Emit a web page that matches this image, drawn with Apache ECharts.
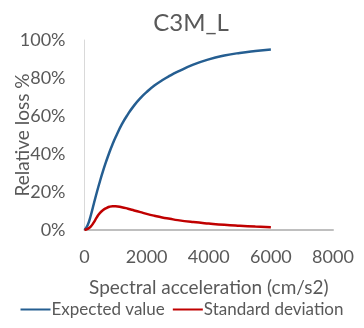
<!DOCTYPE html>
<html>
<head>
<meta charset="utf-8">
<script src="https://cdn.jsdelivr.net/npm/echarts@6/dist/echarts.min.js"></script>
<style>
  html, body { margin: 0; padding: 0; background: #fff; }
  #main { width: 364px; height: 328px; }
</style>
</head>
<body>
<div id="main"></div>
<script>
// spectral acceleration (cm/s2)
var accel = [0, 100, 200, 300, 400, 500, 600, 700, 800, 900, 1000, 1200, 1400, 1600, 1800, 2000,
  2250, 2500, 2750, 3000, 3500, 4000, 4500, 5000, 5500, 6000];
// relative loss %
var expectedValue = [0, 2.5, 7.5, 13.8, 20, 25.8, 31.2, 36.2, 40.8, 45, 48.8, 55.6, 61, 65.6, 69.4, 72.6,
  76, 78.8, 81.2, 83.3, 87, 89.8, 91.8, 93.2, 94.2, 95];
var standardDeviation = [0, 0.6, 1.8, 4, 6.8, 9, 10.5, 11.5, 12.2, 12.5, 12.5, 12, 11.2, 10.3, 9.4, 8.5,
  7.5, 6.6, 5.9, 5.2, 4.2, 3.4, 2.7, 2.2, 1.8, 1.5];
var xTicks = [0, 2000, 4000, 6000, 8000];
var seriesNames = ['Expected value', 'Standard deviation'];

function pairs(xs, ys) {
  var out = [];
  for (var i = 0; i < xs.length; i++) out.push([xs[i], ys[i]]);
  return out;
}

var font = 'Lato, "Open Sans", sans-serif';
var grey = '#595959';

var chart = echarts.init(document.getElementById('main'));
chart.setOption({
  animation: false,
  textStyle: { fontFamily: font },
  title: {
    text: 'C3M_L',
    left: 186,
    textAlign: 'center',
    top: 6,
    textStyle: { fontFamily: font, fontSize: 24, fontWeight: 'normal', color: grey }
  },
  legend: {
    bottom: 5,
    left: 'center',
    icon: 'rect',
    itemWidth: 30,
    itemHeight: 2,
    itemGap: 8,
    data: seriesNames,
    textStyle: { fontFamily: font, fontSize: 17, color: grey, padding: [0, 0, 0, -4] }
  },
  grid: { left: 84.5, right: 31, top: 40, bottom: 98, outerBoundsMode: 'none', containLabel: false },
  xAxis: {
    type: 'value',
    min: xTicks[0],
    max: xTicks[xTicks.length - 1],
    interval: xTicks[1] - xTicks[0],
    name: 'Spectral acceleration (cm/s2)',
    nameLocation: 'middle',
    nameGap: 48,
    nameMoveOverlap: false,
    nameTextStyle: { fontFamily: font, fontSize: 19, color: grey },
    axisLine: { show: true, lineStyle: { color: '#BFBFBF', width: 2 } },
    axisTick: { show: false },
    splitLine: { show: false },
    axisLabel: {
      fontFamily: font, fontSize: 18, color: grey, margin: 18,
      formatter: function (v) { return String(v); }
    }
  },
  yAxis: {
    type: 'value',
    min: 0,
    max: 100,
    interval: 20,
    name: 'Relative loss %',
    nameLocation: 'middle',
    nameGap: 52,
    nameMoveOverlap: false,
    nameTextStyle: { fontFamily: font, fontSize: 19, color: grey },
    axisLine: { show: true, lineStyle: { color: '#D9D9D9', width: 1 } },
    axisTick: { show: false },
    splitLine: { show: false },
    axisLabel: { fontFamily: font, fontSize: 18, color: grey, margin: 19, formatter: '{value}%' }
  },
  series: [
    {
      name: seriesNames[0],
      type: 'line',
      smooth: 0.5,
      showSymbol: false,
      color: '#255E91',
      lineStyle: { width: 2.5, color: '#255E91' },
      data: pairs(accel, expectedValue)
    },
    {
      name: seriesNames[1],
      type: 'line',
      smooth: 0.5,
      showSymbol: false,
      color: '#C00000',
      lineStyle: { width: 2.5, color: '#C00000' },
      data: pairs(accel, standardDeviation)
    }
  ]
});
</script>
</body>
</html>
